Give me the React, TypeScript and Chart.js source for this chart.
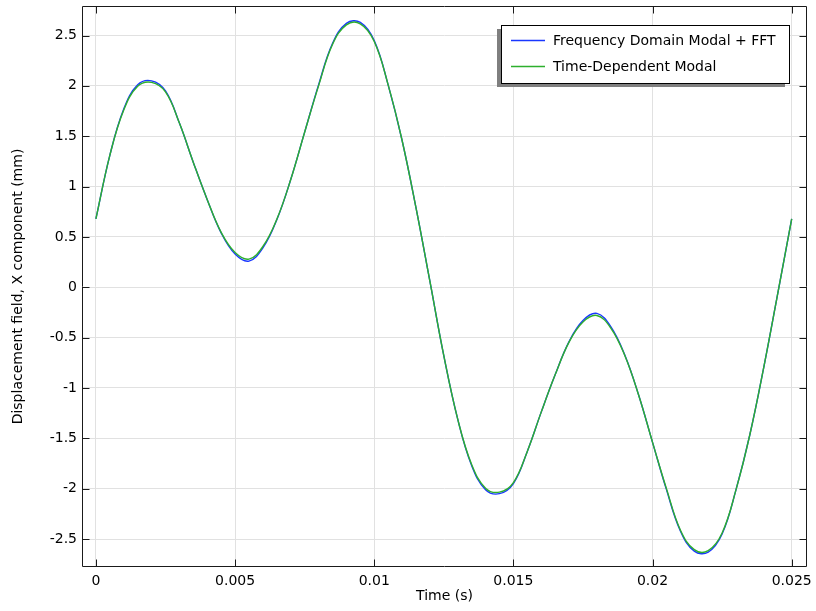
import React, { useEffect, useRef } from 'react';
import { Chart, registerables } from 'chart.js';

Chart.register(...registerables);

const time = [
  0, 0.0005, 0.001, 0.0015, 0.002, 0.0025, 0.003, 0.0035, 0.004, 0.0045,
  0.005, 0.0055, 0.006, 0.0065, 0.007, 0.0075, 0.008, 0.0085, 0.009, 0.0095,
  0.01, 0.0105, 0.011, 0.0115, 0.012, 0.0125, 0.013, 0.0135, 0.014, 0.0145,
  0.015, 0.0155, 0.016, 0.0165, 0.017, 0.0175, 0.018, 0.0185, 0.019, 0.0195,
  0.02, 0.0205, 0.021, 0.0215, 0.022, 0.0225, 0.023, 0.0235, 0.024, 0.0245,
  0.025,
];

const freqDomainFFT = [
  0.68, 1.31, 1.77, 2.01, 2.05, 1.95, 1.63, 1.24, 0.87, 0.54,
  0.33, 0.26, 0.39, 0.67, 1.07, 1.54, 2.01, 2.42, 2.62, 2.63,
  2.45, 2.01, 1.46, 0.79, 0.06, -0.68, -1.31, -1.77, -2.01, -2.05,
  -1.95, -1.63, -1.24, -0.87, -0.54, -0.33, -0.26, -0.39, -0.67, -1.07,
  -1.54, -2.01, -2.42, -2.62, -2.63, -2.45, -2.01, -1.46, -0.79, -0.06,
  0.68,
];

const timeDependent = [
  0.68, 1.31, 1.76, 1.995, 2.035, 1.94, 1.63, 1.24, 0.87, 0.545,
  0.345, 0.28, 0.405, 0.675, 1.07, 1.54, 2.0, 2.41, 2.605, 2.615,
  2.44, 2.01, 1.46, 0.79, 0.06, -0.68, -1.31, -1.76, -1.995, -2.035,
  -1.94, -1.63, -1.24, -0.87, -0.545, -0.345, -0.28, -0.405, -0.675, -1.07,
  -1.54, -2.0, -2.41, -2.605, -2.615, -2.44, -2.01, -1.46, -0.79, -0.06,
  0.68,
];

const xTicks = [0, 0.005, 0.01, 0.015, 0.02, 0.025];
const xTickLabels = ['0', '0.005', '0.01', '0.015', '0.02', '0.025'];
const yTicks = [2.5, 2, 1.5, 1, 0.5, 0, -0.5, -1, -1.5, -2, -2.5];
const yTickLabels = ['2.5', '2', '1.5', '1', '0.5', '0', '-0.5', '-1', '-1.5', '-2', '-2.5'];

const seriesNames = ['Frequency Domain Modal + FFT', 'Time-Dependent Modal'];
const seriesColors = ['rgb(25,55,255)', 'rgb(45,175,45)'];
const xTitle = 'Time (s)';
const yTitle = 'Displacement field, X component (mm)';

const FONT = 'DejaVu Sans';
const FONT_SIZE = 14;

const framePlugin = {
  id: 'frame',
  afterDatasetsDraw(chart: any) {
    const { ctx, chartArea, scales } = chart;
    const { left, right, top, bottom } = chartArea;
    ctx.save();
    ctx.strokeStyle = '#1a1a1a';
    ctx.lineWidth = 1;
    const L = Math.round(left) + 0.5;
    const R = Math.round(right) - 0.5;
    const T = Math.round(top) + 0.5;
    const B = Math.round(bottom) - 0.5;
    ctx.beginPath();
    ctx.rect(L, T, R - L, B - T);
    ctx.stroke();
    const len = 7;
    ctx.beginPath();
    xTicks.forEach((v) => {
      const px = Math.round(scales.x.getPixelForValue(v)) + 0.5;
      ctx.moveTo(px, B);
      ctx.lineTo(px, B - len);
      ctx.moveTo(px, T);
      ctx.lineTo(px, T + len);
    });
    yTicks.forEach((v) => {
      const py = Math.round(scales.y.getPixelForValue(v)) + 0.5;
      ctx.moveTo(L, py);
      ctx.lineTo(L + len, py);
      ctx.moveTo(R, py);
      ctx.lineTo(R - len, py);
    });
    ctx.stroke();
    ctx.restore();
  },
};

const legendPlugin = {
  id: 'customLegend',
  afterDraw(chart: any) {
    const { ctx, chartArea } = chart;
    const w = 288;
    const h = 58;
    const bx = Math.round(chartArea.right) - 18 - w;
    const by = Math.round(chartArea.top) + 19;
    ctx.save();
    ctx.fillStyle = '#7f7f7f';
    ctx.fillRect(bx - 4, by + 4, w, h);
    ctx.fillStyle = '#ffffff';
    ctx.fillRect(bx, by, w, h);
    ctx.strokeStyle = '#000000';
    ctx.lineWidth = 1;
    ctx.strokeRect(bx + 0.5, by + 0.5, w, h);
    ctx.font = `${FONT_SIZE}px "${FONT}"`;
    ctx.textBaseline = 'middle';
    ctx.textAlign = 'left';
    seriesNames.forEach((name, i) => {
      const y = by + 15 + i * 26;
      ctx.strokeStyle = seriesColors[i];
      ctx.lineWidth = 1.3;
      ctx.beginPath();
      ctx.moveTo(bx + 10, y + 0.5);
      ctx.lineTo(bx + 44, y + 0.5);
      ctx.stroke();
      ctx.fillStyle = '#000000';
      ctx.fillText(name, bx + 52, y + 1);
    });
    ctx.restore();
  },
};

export default function App() {
  const canvasRef = useRef<HTMLCanvasElement | null>(null);

  useEffect(() => {
    document.body.style.margin = '0';
    const canvas = canvasRef.current;
    if (!canvas) return;
    Chart.defaults.font.family = FONT;
    Chart.defaults.font.size = FONT_SIZE;
    Chart.defaults.color = '#000';

    const chart = new Chart(canvas, {
      type: 'line',
      data: {
        datasets: [
          {
            label: seriesNames[0],
            data: time.map((t, i) => ({ x: t, y: freqDomainFFT[i] })),
            borderColor: seriesColors[0],
            borderWidth: 1.4,
            pointRadius: 0,
            tension: 0.4,
            fill: false,
            order: 1,
          },
          {
            label: seriesNames[1],
            data: time.map((t, i) => ({ x: t, y: timeDependent[i] })),
            borderColor: seriesColors[1],
            borderWidth: 1.4,
            pointRadius: 0,
            tension: 0.4,
            fill: false,
            order: 0,
          },
        ],
      },
      options: {
        responsive: false,
        devicePixelRatio: 1,
        animation: false,
        layout: { padding: { top: 6, right: 9, left: 0, bottom: 0 } },
        plugins: {
          legend: { display: false },
          tooltip: { enabled: false },
        },
        scales: {
          x: {
            type: 'linear',
            min: -0.0005,
            max: 0.02555,
            afterBuildTicks: (s: any) => {
              s.ticks = xTicks.map((v) => ({ value: v }));
            },
            afterFit: (s: any) => {
              s.height = 44;
              s.paddingLeft = 0;
              s.paddingRight = 0;
            },
            ticks: {
              padding: 6,
              maxRotation: 0,
              autoSkip: false,
              callback: (v: any) => {
                const i = xTicks.indexOf(Number(v));
                return i >= 0 ? xTickLabels[i] : '';
              },
            },
            grid: { color: '#e1e1e1', drawTicks: false, lineWidth: 1 },
            border: { display: false },
            title: {
              display: true,
              text: xTitle,
              font: { size: FONT_SIZE, family: FONT },
              padding: { top: 0, bottom: 6 },
            },
          },
          y: {
            type: 'linear',
            min: -2.778,
            max: 2.793,
            afterBuildTicks: (s: any) => {
              s.ticks = yTicks.map((v) => ({ value: v }));
            },
            afterFit: (s: any) => {
              s.width = 82;
              s.paddingTop = 0;
              s.paddingBottom = 0;
            },
            ticks: {
              padding: 5,
              autoSkip: false,
              callback: (v: any) => {
                const i = yTicks.indexOf(Number(v));
                return i >= 0 ? yTickLabels[i] : '';
              },
            },
            grid: { color: '#e1e1e1', drawTicks: false, lineWidth: 1 },
            border: { display: false },
            title: {
              display: true,
              text: yTitle,
              font: { size: FONT_SIZE, family: FONT },
              padding: { top: 10, bottom: 0 },
            },
          },
        },
      },
      plugins: [framePlugin, legendPlugin],
    } as any);

    return () => {
      chart.destroy();
    };
  }, []);

  return <canvas ref={canvasRef} width={816} height={611} style={{ display: 'block' }} />;
}
